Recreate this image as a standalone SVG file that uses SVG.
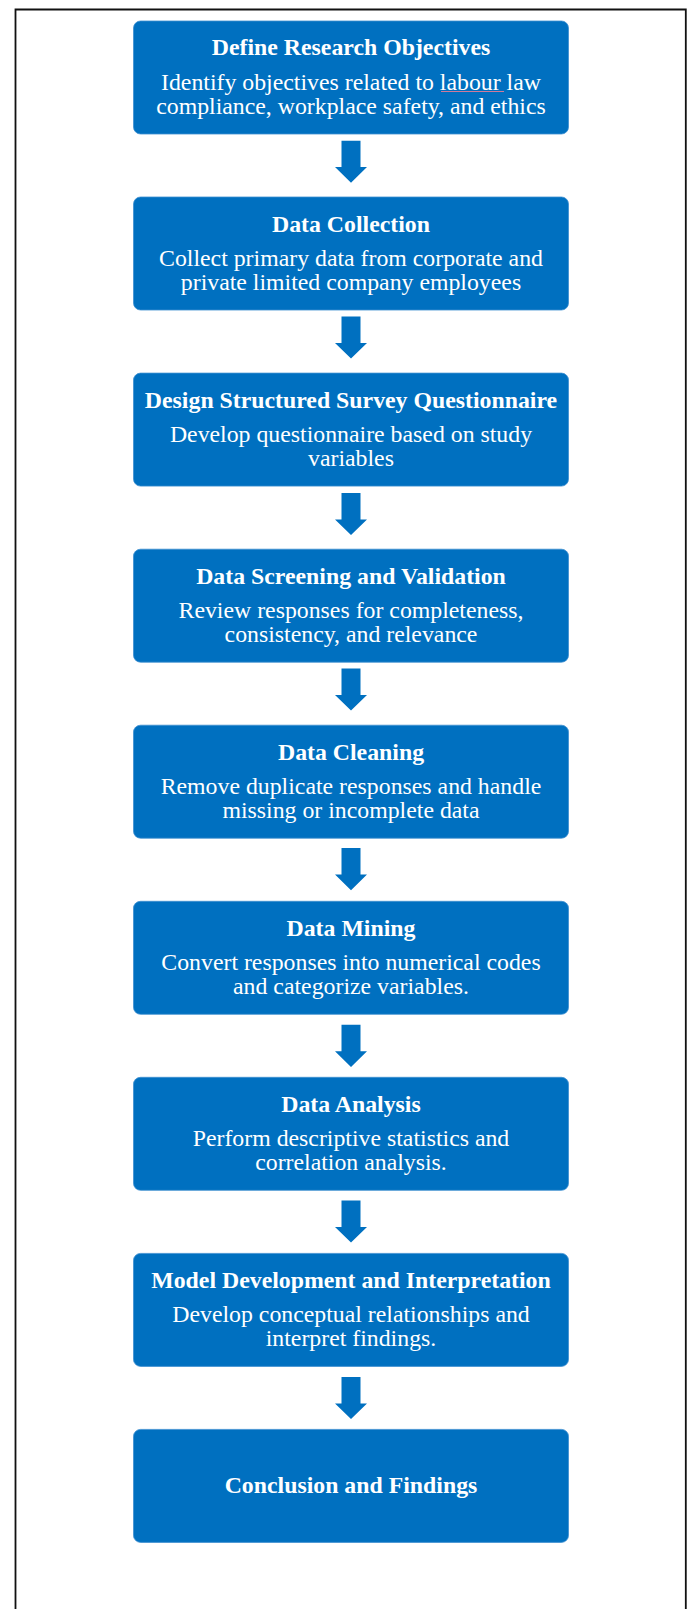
<svg xmlns="http://www.w3.org/2000/svg" width="689" height="1609" viewBox="0 0 689 1609">
<style>
.box{fill:#0070C0;stroke:#3d8fd0;stroke-width:0.8}
.t{font-family:"Liberation Serif","Times New Roman",serif;font-weight:bold;font-size:23.8px;fill:#ffffff;text-anchor:middle}
.b{font-family:"Liberation Serif","Times New Roman",serif;font-size:23.8px;fill:#ffffff;text-anchor:middle}
.arr{fill:#0070C0}
</style>
<rect x="0" y="0" width="689" height="1609" fill="#ffffff"/>
<path d="M15.5,1609 V9.5 H685.8 V1609" fill="none" stroke="#111111" stroke-width="1.8"/>
<g id="connectors">
<polygon class="arr" points="341.5,140.7 360.5,140.7 360.5,167 367,167 351,182.7 335,167 341.5,167"/>
<polygon class="arr" points="341.5,316.5 360.5,316.5 360.5,343 367,343 351,358.5 335,343 341.5,343"/>
<polygon class="arr" points="341.5,492.9 360.5,492.9 360.5,519.4 367,519.4 351,535 335,519.4 341.5,519.4"/>
<polygon class="arr" points="341.5,668.5 360.5,668.5 360.5,695 367,695 351,710.6 335,695 341.5,695"/>
<polygon class="arr" points="341.5,848.1 360.5,848.1 360.5,874.6 367,874.6 351,890.2 335,874.6 341.5,874.6"/>
<polygon class="arr" points="341.5,1024.8 360.5,1024.8 360.5,1051.3 367,1051.3 351,1066.9 335,1051.3 341.5,1051.3"/>
<polygon class="arr" points="341.5,1200.4 360.5,1200.4 360.5,1227 367,1227 351,1242.4 335,1227 341.5,1227"/>
<polygon class="arr" points="341.5,1377 360.5,1377 360.5,1403.5 367,1403.5 351,1419 335,1403.5 341.5,1403.5"/>
</g>
<g id="n1">
<rect class="box" x="133.5" y="21" width="435" height="113" rx="7"/>
<text class="t" x="351" y="55">Define Research Objectives</text>
<text class="b" x="351" y="89.5">Identify objectives related to labour law</text>
<text class="b" x="351" y="114">compliance, workplace safety, and ethics</text>
<line x1="441" y1="91.5" x2="504" y2="91.5" stroke="#d07a9a" stroke-width="1"/>
</g>
<g id="n2">
<rect class="box" x="133.5" y="197" width="435" height="113" rx="7"/>
<text class="t" x="351" y="231.5">Data Collection</text>
<text class="b" x="351" y="265.5">Collect primary data from corporate and</text>
<text class="b" x="351" y="290">private limited company employees</text>
</g>
<g id="n3">
<rect class="box" x="133.5" y="373.1" width="435" height="113" rx="7"/>
<text class="t" x="351" y="407.5">Design Structured Survey Questionnaire</text>
<text class="b" x="351" y="441.5">Develop questionnaire based on study</text>
<text class="b" x="351" y="466">variables</text>
</g>
<g id="n4">
<rect class="box" x="133.5" y="549.2" width="435" height="113" rx="7"/>
<text class="t" x="351" y="583.5">Data Screening and Validation</text>
<text class="b" x="351" y="617.5">Review responses for completeness,</text>
<text class="b" x="351" y="642">consistency, and relevance</text>
</g>
<g id="n5">
<rect class="box" x="133.5" y="725.2" width="435" height="113" rx="7"/>
<text class="t" x="351" y="759.5">Data Cleaning</text>
<text class="b" x="351" y="793.5">Remove duplicate responses and handle</text>
<text class="b" x="351" y="818">missing or incomplete data</text>
</g>
<g id="n6">
<rect class="box" x="133.5" y="901.3" width="435" height="113" rx="7"/>
<text class="t" x="351" y="935.5">Data Mining</text>
<text class="b" x="351" y="969.5">Convert responses into numerical codes</text>
<text class="b" x="351" y="994">and categorize variables.</text>
</g>
<g id="n7">
<rect class="box" x="133.5" y="1077.3" width="435" height="113" rx="7"/>
<text class="t" x="351" y="1111.5">Data Analysis</text>
<text class="b" x="351" y="1145.5">Perform descriptive statistics and</text>
<text class="b" x="351" y="1170">correlation analysis.</text>
</g>
<g id="n8">
<rect class="box" x="133.5" y="1253.4" width="435" height="113" rx="7"/>
<text class="t" x="351" y="1287.5">Model Development and Interpretation</text>
<text class="b" x="351" y="1321.5">Develop conceptual relationships and</text>
<text class="b" x="351" y="1346">interpret findings.</text>
</g>
<g id="n9">
<rect class="box" x="133.5" y="1429.4" width="435" height="113" rx="7"/>
<text class="t" x="351" y="1493">Conclusion and Findings</text>
</g>
</svg>
